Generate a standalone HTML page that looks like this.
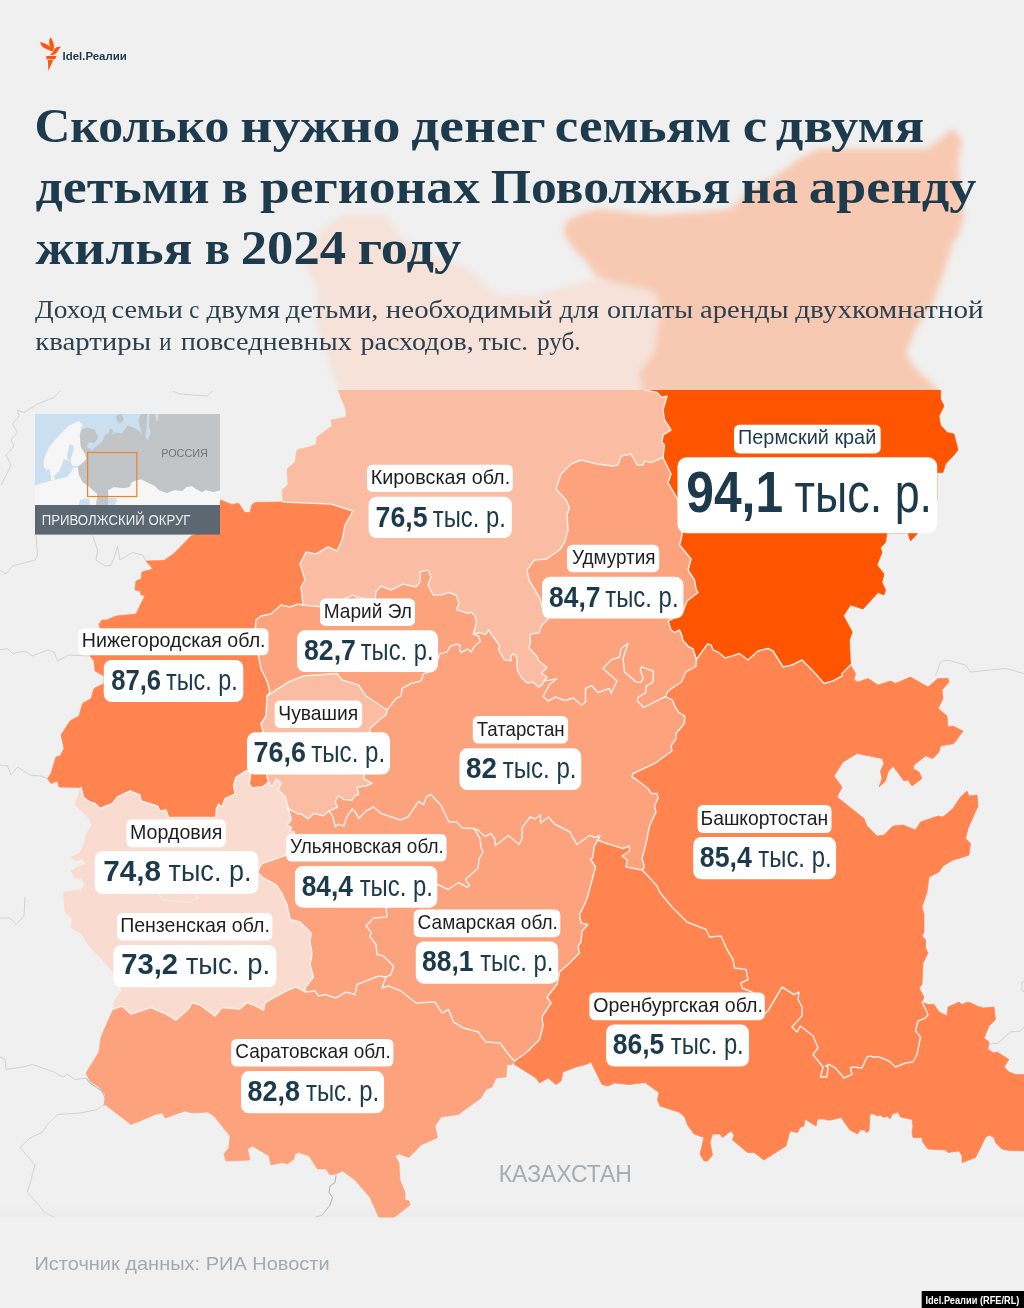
<!DOCTYPE html>
<html lang="ru"><head><meta charset="utf-8"><title>Idel.Реалии — аренда жилья в Поволжье, 2024</title>
<style>
html,body{margin:0;padding:0;background:#f0f0f0}
body{width:1024px;height:1308px;overflow:hidden}
svg{display:block;will-change:transform;transform:translateZ(0)}
.ser{font-family:"Liberation Serif","DejaVu Serif",serif}
.san{font-family:"Liberation Sans","DejaVu Sans",sans-serif}
</style></head><body>
<svg width="1024" height="1308" viewBox="0 0 1024 1308">
<defs>
<filter id="bl" x="-10%" y="-10%" width="120%" height="120%"><feGaussianBlur stdDeviation="3.2"/></filter>
<clipPath id="mapclip"><rect x="0" y="390" width="1024" height="828"/></clipPath>
<clipPath id="insclip"><rect x="35" y="414" width="185" height="91"/></clipPath>
<linearGradient id="botg" x1="0" y1="0" x2="0" y2="1"><stop offset="0" stop-color="#e9e9e9" stop-opacity="0"/><stop offset="1" stop-color="#e6e6e6" stop-opacity=".9"/></linearGradient>
</defs>
<rect width="1024" height="1308" fill="#f0f0f0"/>

<g filter="url(#bl)">
<polygon points="341,394 331,370 321,340 316,315 318.5,290 306,265 316,235 341,215 386,215 398.5,235 421,250 441,260 466,267.5 481,280 496,295 536,296 566,287 590,280 613,282 642.5,288 657,294 660,311.7 657,335 654,352.7 639.6,373 642.5,394" fill="#f6e2d9"/>
<polygon points="642.5,394 639.6,373 654,352.7 657,335 660,311.7 657,294 642.5,288 613,282 595.7,276.5 587,262 572,247 563.4,232.5 566.4,221 578,215 598.6,209 636.7,213.5 657,215 677.7,213.5 704,212 730.4,209 742,197.4 756.8,185.7 774.4,177 795,162 808,154 819,149 927,149 940,139 952,129 962,139 958,164 960,188 964,217 958,237 953,242 945,269 933,302.5 916,328 906,353 914,367 933,384.5 941,394" fill="#f8c9b2"/>
</g>
<g clip-path="url(#mapclip)">
<g fill="none" stroke="#d3d3d3" stroke-width="1" stroke-linejoin="round">
<polyline points="60,391 54,397.5 37.5,404 24,412.5 17.5,410 19,416 12.5,424 17.5,432.5 11,440 14,446 6,455 11,465 7.5,472.5 1,485"/>
<polyline points="172.5,391 180,394 207.5,396 212.5,391"/>
<polyline points="36,535 37.5,555 35,560 12.5,566 6,574 0,570"/>
<polyline points="92.5,535 97.5,550 96,560 105,566 111,565 115,555 117.5,546 120,560 132.5,552.5 142.5,555 146,561"/>
<polyline points="0,650 7.5,648.5 12.5,653.5 25,651 32.5,656 47.5,650 54,652 57.5,661 69,655 90,656"/>
<polyline points="0,765 7.5,766 11,775 17.5,767 30,775 41,776 47.5,778.5"/>
<polyline points="0,1057 5,1059.5 6,1069.5 22.5,1067 32.5,1064.5 54,1072 62.5,1077 67.5,1074.5 75,1079.5 86,1078"/>
<polyline points="104,1104.5 97.5,1109.5 80,1113 57.5,1114.5 47.5,1124.5 42.5,1132 30,1138 20,1147.5 35,1165 27.5,1192.5 45,1212.5 55,1217.5"/>
<polyline points="25,897 24,916 16,924.5 10,918 0,918"/>
<polyline points="935.5,676 940.5,662 947,660 965.5,665 970.5,672 1005.5,668.5 1024,673.5"/>
<polyline points="1024,981 1022,982 1022,991 1024,992"/>
<polyline points="988,1044.5 998,1043 1010.5,1032 1020.5,1031 1024,1027"/>
</g>
<polyline points="336,1175 335,1182.5 330,1186 329,1192.5 332.5,1197.5 330,1205 322.5,1215 315,1217.5" fill="none" stroke="#aab4bc" stroke-width="1"/>
<polyline points="86,1078 90,1083 101.6,1090.8 105.4,1098.4 104,1106" fill="none" stroke="#b9c3cb" stroke-width="1.2"/>
<rect x="0" y="1205" width="1024" height="12.5" fill="url(#botg)" opacity=".55"/>
<polygon points="338,372 338,390 346,410 346,417 331,420 332,426 317,437 316,445 297,450 295,462 287,469 288,485 282,490 283,502 331,504 353,511 345,525 342,540 337,551 328,547 316,554 306,552 300,564 305,580 301,587 303,605 323,607 340,601 353,595 356,597 375,600 376,592 381,586 391,590 403,584 416,587 420,582 420,572 428,570 431,577 428,585 433,595 440,595 449.5,592.5 456.5,595.5 459,603.5 456.5,609.5 468,613.5 471,612 475,616 476.5,621.5 473.5,634 480,632.5 485.5,634.5 488.5,630 499.5,645.5 498.5,649.5 504,659.5 511,661 511,656 513.5,653.5 516.5,656.5 517.5,670.5 521,677 526.5,682.5 530,683 532,681.5 538.5,687 542.5,684.5 544,681 547,677 541.5,673 547,667.5 538.5,660.5 537,656.5 529,648 530.5,641.5 530,637 530.5,634 539,633 541.5,625.5 548,619 542.5,608 539.5,597.5 529,580 527,570 534.5,560 546,559 551,556 559.5,550 564.5,542.5 568,530 567,515 569.5,507.5 566,500 556,489 561,474 571,464 581,460 597,464 613,466 618,465 621,456 631,454 637,465 643,465 644.5,461 651,462.5 663,457.5 664.5,445 662,442.5 663,435 671,430 664.5,420 663,410 667,396 662,397.5 657,392.5 644.5,390 644.5,372" fill="#fabda3" stroke="#fabda3" stroke-width=".7" stroke-linejoin="round"/>
<polygon points="644.5,372 644.5,390 657,392.5 662,397.5 667,396 663,410 664.5,420 671,430 663,435 662,442.5 664.5,445 663,457.5 671,474 668,482.5 678,500 680,517 682,535 679.5,545 691,559 688,570 694.5,580 696,589 698,592.5 687,601 682,614 668,621 671,630 674.5,632.5 679.5,630 682,636 682.7,640 688.6,646.8 693,648.8 696.4,659.5 707.6,643.9 711,644.9 713,649.8 718.9,652.7 725.2,658 730,656.6 739.5,653.5 748,660 758,651 768,648.5 773,651 783,667 792,665 802,660 813,671 824,683.5 833,681 842,676 842,673.5 850.5,665 849.4,640 852.3,632.3 843.5,615.7 850.5,605 863,609 878,592.5 884,595 885.5,590 882,582.5 884,574 877,565 882,552.5 880.5,547.5 885.5,542.5 887,533 908,533 910.5,541 918,533 937,500 937,472.5 943,472.5 945.5,464 954,455 958,450 954,434 947,432.5 940.5,425 939,416 944,406 940.5,399 940.5,372" fill="#ff5500" stroke="#ff5500" stroke-width=".7" stroke-linejoin="round"/>
<polygon points="283,502 256.1,502.3 252,504.4 250,512.6 244.8,512.6 238.7,503.3 231.5,504.4 221.3,500.3 220,500 196,534 190.5,536.5 174,553.6 164,560.5 146,561 153,569 142,572 141,579 136,581 135,590 140,591 141,595 145,595.5 136,614 116,616 107,620 102,620 99,624 100,628 90,656 94,661 95,671 104,676 104,683.5 94,688.5 91,698.5 82.5,703.5 79,716 70,721 61,735 64,748.5 60,756 56,757 51,773.5 47.5,778.5 51,783.5 57.5,781 59,787 81,787.5 83.5,797.5 90,802 95,803.5 100,808.5 112.5,803.5 117.5,797 130,791 140,795 141,801 157.5,806 160,811 166,810 168.5,817.5 216,817.5 216.4,808.75 218.75,804 221.9,807.2 225,798.6 235.2,793.9 233.6,785.3 235.9,777.5 246.9,770.5 250.8,773.6 249.2,783.75 251.6,787.7 262.5,786.9 268.75,782.2 267,777 265,755 263.5,733.5 261,723.5 266,716 267,696 270,692 267,681 261,668.5 258.5,656 255,632 256,620 261,616 271,614 281,605 290,607 298,604 303,605 301,587 305,580 300,564 306,552 316,554 328,547 337,551 342,540 345,525 353,511 331,504 283,502" fill="#ff8450" stroke="#ff8450" stroke-width=".7" stroke-linejoin="round"/>
<polygon points="303,605 298,604 290,607 281,605 271,614 261,616 256,620 255,632 258.5,656 261,668.5 267,681 270,692 267,696 288.5,682 303.5,676 337,673.5 342,680 358.5,685 366,696 387,710 396,698.5 401,696 402,688.5 411,683.5 421,681 423.5,673.5 433.5,671 440,653.5 447,652 450,646.5 456.5,644 460.5,645.5 459.5,649 461,652.5 468,649 471,652 475,645.5 480.5,641.5 478.5,636 473.5,634 476.5,621.5 475,616 471,612 468,613.5 456.5,609.5 459,603.5 456.5,595.5 449.5,592.5 440,595 433,595 428,585 431,577 428,570 420,572 420,582 416,587 403,584 391,590 381,586 376,592 375,600 356,597 353,595 340,601 323,607 303,605" fill="#fca27c" stroke="#fca27c" stroke-width=".7" stroke-linejoin="round"/>
<polygon points="267,696 288.5,682 303.5,676 337,673.5 342,680 358.5,685 366,696 387,710 386,715 381,718.5 370,728.5 370,733.5 368,755 363.5,778.5 372,783.5 366,786 357,787 358.5,795 356.25,794.7 351.6,800.2 343.75,799.4 338.3,795.5 335.2,801.7 337.5,807.2 329,811 323.4,815.8 314,813.4 307.8,818.9 301.6,814.2 296.9,813.4 288.3,808.75 285.2,796.25 278.1,790 281.25,783 276.6,779 271.9,786.9 268.75,782.2 267,777 265,755 263.5,733.5 261,723.5 266,716 267,696" fill="#fabda3" stroke="#fabda3" stroke-width=".7" stroke-linejoin="round"/>
<polygon points="663,457.5 651,462.5 644.5,461 643,465 637,465 631,454 621,456 618,465 613,466 597,464 581,460 571,464 561,474 556,489 566,500 569.5,507.5 567,515 568,530 564.5,542.5 559.5,550 551,556 546,559 534.5,560 527,570 529,580 539.5,597.5 542.5,608 548,619 541.5,625.5 539,633 530.5,634 530,637 530.5,641.5 529,648 537,656.5 538.5,660.5 547,667.5 541.5,673 547,677 544,681 556.5,679 549.5,684.5 543,696.5 548,701 555.5,697 565,700.5 573.5,698 581.5,705 585.5,702 585.5,688.5 591.5,685.5 598,692.5 609.5,688.5 611,693.5 617,681 603,668.5 611,660 619.5,657 621,648.5 628,643.5 623,658.5 624.5,672 630,676.6 635.9,682 640.3,682.5 643.2,679 640.3,669.3 641.7,666.9 653.4,671.25 653,682 646.1,686.4 645.6,692.7 637.8,697.6 637.3,701 643.7,707.4 665.2,696.6 668.1,690.8 681.3,682 686.2,671.7 695.9,666.4 696.4,659.5 693,648.8 688.6,646.8 682.7,640 682,636 679.5,630 674.5,632.5 671,630 668,621 682,614 687,601 698,592.5 696,589 694.5,580 688,570 691,559 679.5,545 682,535 680,517 678,500 668,482.5 671,474 663,457.5" fill="#fca27c" stroke="#fca27c" stroke-width=".7" stroke-linejoin="round"/>
<polygon points="473.5,634 478.5,636 480.5,641.5 475,645.5 471,652 468,649 461,652.5 459.5,649 460.5,645.5 456.5,644 450,646.5 447,652 440,653.5 433.5,671 423.5,673.5 421,681 411,683.5 402,688.5 401,696 396,698.5 387,710 386,715 381,718.5 370,728.5 370,733.5 368,755 363.5,778.5 372,783.5 366,786 357,787 358.5,795 356.25,794.7 351.6,800.2 343.75,799.4 338.3,795.5 335.2,801.7 337.5,807.2 329,811 332.8,816.6 335.2,826.7 338.3,824.4 343.75,826 346.9,816.6 352.3,808.75 356.25,813.4 358.5,818.5 366,811 373.5,807 381,813.5 396,818.5 400,820 408,817 418.5,801.5 423.5,804.5 426.5,796.5 431,794.5 441,805.5 448,820 449,822 456.5,822 462.5,828 474,828.5 478,830 485,836.5 491,833.5 494.5,838.5 495.5,845.5 508.5,835.5 519,844.5 522,838.5 522,828 530,817 535,819 540.5,815 540.5,823 548.5,817 554.5,824 570,832 572,836.5 577,844.5 589.5,835.5 595.5,837.5 600,835.5 598,840 602,842 623,848.5 629.5,846 629.5,851 622,856 627,860 626,867 642,870 644.5,867 642,858.5 646,843.5 649.5,826 656,812 654.5,806 658,798.5 657,793.5 651,793.5 648,788.5 637,780 632,777 633,773.5 654.5,763.5 672,751 671,746 676,738.5 676,733.5 684.5,723.5 684.7,716.2 678.8,712.3 675.9,708.4 672,699.6 665.2,696.6 643.7,707.4 637.3,701 637.8,697.6 645.6,692.7 646.1,686.4 653,682 653.4,671.25 641.7,666.9 640.3,669.3 643.2,679 640.3,682.5 635.9,682 630,676.6 624.5,672 623,658.5 628,643.5 621,648.5 619.5,657 611,660 603,668.5 617,681 611,693.5 609.5,688.5 598,692.5 591.5,685.5 585.5,688.5 585.5,702 581.5,705 573.5,698 565,700.5 555.5,697 548,701 543,696.5 549.5,684.5 556.5,679 544,681 542.5,684.5 538.5,687 532,681.5 530,683 526.5,682.5 521,677 517.5,670.5 516.5,656.5 513.5,653.5 511,656 511,661 504,659.5 498.5,649.5 499.5,645.5 488.5,630 485.5,634.5 480,632.5 473.5,634" fill="#fca27c" stroke="#fca27c" stroke-width=".7" stroke-linejoin="round"/>
<polygon points="696.4,659.5 695.9,666.4 686.2,671.7 681.3,682 668.1,690.8 665.2,696.6 672,699.6 675.9,708.4 678.8,712.3 684.7,716.2 684.5,723.5 676,733.5 676,738.5 671,746 672,751 654.5,763.5 633,773.5 632,777 637,780 648,788.5 651,793.5 657,793.5 658,798.5 654.5,806 656,812 649.5,826 646,843.5 642,858.5 644.5,867 642,870 648,876 657,886 659.5,892 672,907 687,922 706,929.5 709.5,937 721,936 727,949.5 733,959.5 734.5,968 746,969.5 748,979.5 741,983 742,988 752,992 760,1005 764.5,1014 768,1010.75 782,987 794,994.5 799,992 798,999.5 802,1007 802,1016 792,1027 797,1032 800.5,1026 813,1036 818,1048 813,1054.5 823,1067 820.5,1077 827,1077 828,1067 825.5,1066 829,1064.5 835.5,1068 844,1078 852,1074.5 850.5,1068 853,1067 862,1068 867,1057 870.5,1056 873,1057 879,1057 889,1061 895.5,1067 905.5,1063 913,1062 917,1054.5 920.5,1037 915.5,1031 918,1021 925.5,1018 928,1014.5 924,1006 922,1002 924,997 919,988 922,984.5 923,963 928,953 925.5,948 925.5,939.5 922,936 924,932 924,914.5 922,907 927,892 929,877 939,872 943,866 953,860 959,858.5 969,855 970.5,843.5 965.5,838.5 968,828.5 978,806 977,795 969,796 967,791 960.5,797 953,808.5 943,817 938,816 920.5,822 915.5,830 903,825 893,826 884,835 877,836 867,826 864,818.5 837,797 842,787 834,776 843,762 857,753.5 882,758.5 884,763.5 880.5,771 882,778.5 879,787 885.5,781 888,772 893,766 904,781 908,780 912,786 922,778.5 919,772 913,768.5 914,765 925.5,756 933,758.5 939,752 940.5,746 954,743.5 963,731 953,726 948,727 947,716 938,708.5 943,698.5 942,690 949,682 948,678.5 938,678.5 928,687 910.5,677 895.5,683.5 890.5,681 878,685 868,678.5 858,682 854,680 855.5,673.5 850.5,665 842,673.5 842,676 833,681 824,683.5 813,671 802,660 792,665 783,667 773,651 768,648.5 758,651 748,660 739.5,653.5 730,656.6 725.2,658 718.9,652.7 713,649.8 711,644.9 707.6,643.9 696.4,659.5" fill="#ff8450" stroke="#ff8450" stroke-width=".7" stroke-linejoin="round"/>
<polygon points="642,870 626,867 627,860 622,856 629.5,851 629.5,846 623,848.5 602,842 598,840 594.5,845.5 592.5,858 590.5,859 595.5,867 587.5,897 584.5,904.5 579.5,914.5 581,923 588,924.5 582,931 581,942 578,946 579.5,953 568,964.5 559.5,972 557,984.5 547,997 551,1003 542,1017 543,1026 539.5,1039.5 527,1052 514.5,1061 514.5,1064.5 536,1078 539.5,1083 548,1078 556,1084.5 561,1081 563,1072 576,1067 586,1064.5 591,1062 602,1084.5 608,1086 614.5,1083 629.5,1084.5 645,1082.5 659,1092.5 657.5,1100 660,1106 680,1112.5 685,1117.5 687.5,1125 694,1134 704,1137.5 700,1154 704,1161 707.5,1161 712.5,1155 710,1142.5 712.5,1134 720,1134 722.5,1137.5 731,1131 734,1135 732.5,1140 747.5,1152.5 754,1152.5 764,1160 786,1146 790,1131 797.5,1132.5 800,1127.5 804,1126 805,1119 816,1126 817.5,1119 824,1119 827.5,1120 831,1120 841,1117.5 850,1130 857.5,1134 860,1130 865,1130 866,1132.5 869,1131 870,1114 874,1114 877.5,1116 880,1115 884,1117.5 887.5,1116 890,1119 892.5,1114 898,1112 900.5,1117 912,1119.5 913,1126 912,1132 913,1137.5 922,1137.5 923,1142.5 928,1149 945.5,1150 948,1152.5 959,1151 962,1156 962,1162.5 975.5,1157.5 985.5,1137.5 989,1135 994,1137.5 995.5,1142.5 1002,1149 1009,1150.5 1030,1151 1030,1074.5 1015.5,1074.5 1009,1072 1004,1067 1009,1059.5 997,1052 994,1053 988,1049.5 989,1042 984,1038 989,1026 995.5,1019.5 994,1007 983,1008 977,1006 974,1004.5 968,1002 962,1004.5 959,1002 948,1007 947,1016 939,1012 934,1004.5 928,1004.5 922,1002 924,1006 928,1014.5 925.5,1018 918,1021 915.5,1031 920.5,1037 917,1054.5 913,1062 905.5,1063 895.5,1067 889,1061 879,1057 873,1057 870.5,1056 867,1057 862,1068 853,1067 850.5,1068 852,1074.5 844,1078 835.5,1068 829,1064.5 825.5,1066 828,1067 827,1077 820.5,1077 823,1067 813,1054.5 818,1048 813,1036 800.5,1026 797,1032 792,1027 802,1016 802,1007 798,999.5 799,992 794,994.5 782,987 768,1010.75 764.5,1014 760,1005 752,992 742,988 741,983 748,979.5 746,969.5 734.5,968 733,959.5 727,949.5 721,936 709.5,937 706,929.5 687,922 672,907 659.5,892 657,886 648,876 642,870" fill="#ff8450" stroke="#ff8450" stroke-width=".7" stroke-linejoin="round"/>
<polygon points="598,840 600,835.5 595.5,837.5 589.5,835.5 577,844.5 572,836.5 570,832 554.5,824 548.5,817 540.5,823 540.5,815 535,819 530,817 522,828 522,838.5 519,844.5 508.5,835.5 495.5,845.5 494.5,838.5 491,833.5 485,836.5 478,830 474,828.5 480,838.5 481,847.5 483,852 479,859 478,868 465.5,879.5 469.5,885.5 467.5,887.5 458.5,882.5 448,889.5 438,884.5 420,895 400,903 386,908 387,917 373.5,918 366,926 371,932 370,937 376,944.5 377,954.5 383.5,956 393.5,966 391,974.5 386,977 382,988 388.5,986 401,991 416,1003 435,1002 442,1013 448.5,1009.5 453.5,1022 463.5,1028 478.5,1032 481,1036 486,1042 500,1043 508.5,1054.5 514.5,1061 527,1052 539.5,1039.5 543,1026 542,1017 551,1003 547,997 557,984.5 559.5,972 568,964.5 579.5,953 578,946 581,942 582,931 588,924.5 581,923 579.5,914.5 584.5,904.5 587.5,897 595.5,867 590.5,859 592.5,858 594.5,845.5 598,840" fill="#fca27c" stroke="#fca27c" stroke-width=".7" stroke-linejoin="round"/>
<polygon points="329,811 323.4,815.8 314,813.4 307.8,818.9 301.6,814.2 296.9,813.4 288.3,808.75 291.4,819.7 286.7,825.2 291.4,827.5 289.8,830.6 294.5,832.2 291,843.5 287,851 285.2,855.6 271,860.5 262.5,863.4 259,868 257.8,872.8 262.5,877.5 276,885 281,892 287,904.5 290,919.5 300,922 311,933 310,942 312,954.5 310,964.5 313.5,977 305,988 306,992 315,991 318.5,996 325,994.5 336,998 346,992 355,994.5 357,984.5 366,981 378.5,976 386,977 391,974.5 393.5,966 383.5,956 377,954.5 376,944.5 370,937 371,932 366,926 373.5,918 387,917 386,908 400,903 420,895 438,884.5 448,889.5 458.5,882.5 467.5,887.5 469.5,885.5 465.5,879.5 478,868 479,859 483,852 481,847.5 480,838.5 474,828.5 462.5,828 456.5,822 449,822 448,820 441,805.5 431,794.5 426.5,796.5 423.5,804.5 418.5,801.5 408,817 400,820 396,818.5 381,813.5 373.5,807 366,811 358.5,818.5 356.25,813.4 352.3,808.75 346.9,816.6 343.75,826 338.3,824.4 335.2,826.7 332.8,816.6 329,811" fill="#fca27c" stroke="#fca27c" stroke-width=".7" stroke-linejoin="round"/>
<polygon points="113.5,1009 122,1006 131,1014 151,1007.5 166,1014 176,1020 188.5,1009 192,1002.5 200,1005 215,1016 222,1007.5 240,1009 247,1002.5 256,1006 263.5,1010 265,1002.5 286,991 296,987 306,992 315,991 318.5,996 325,994.5 336,998 346,992 355,994.5 357,984.5 366,981 378.5,976 386,977 382,988 388.5,986 401,991 416,1003 435,1002 442,1013 448.5,1009.5 453.5,1022 463.5,1028 478.5,1032 481,1036 486,1042 500,1043 508.5,1054.5 514.5,1061 512,1064.5 507,1064.5 506,1077 496,1078 492,1087 486,1089.5 481,1098 468.5,1107 458.5,1114.5 441,1117 435,1126 437.5,1137.5 430,1141 421,1145 409,1157.5 399,1154 395,1156 399,1162.5 400,1180 405,1192.5 405,1200 409,1201 410,1205 394,1217.5 392,1222 380,1222 379,1217.5 370,1197.5 355,1180 342.5,1171 336,1174 330,1175 326,1169 317.5,1169 309,1156 299,1152.5 295,1154 294,1159 287.5,1164 282.5,1162.5 271,1165 269,1156 252.5,1146 247.5,1149 250,1160 226,1161 224,1154 229,1147.5 230,1136 214,1116 207.5,1112 192.5,1113 185,1111 165,1118 162.5,1113 155,1114.5 140,1121 131,1124.5 105,1104.5 105,1094.5 99,1087 90,1081 86,1073 99,1052 101,1037 107.5,1022 113.5,1009" fill="#fca27c" stroke="#fca27c" stroke-width=".7" stroke-linejoin="round"/>
<polygon points="268.75,782.2 262.5,786.9 251.6,787.7 249.2,783.75 250.8,773.6 246.9,770.5 235.9,777.5 233.6,785.3 235.2,793.9 225,798.6 221.9,807.2 218.75,804 216.4,808.75 216,817.5 168.5,817.5 166,810 160,811 157.5,806 141,801 140,795 130,791 117.5,797 112.5,803.5 100,808.5 95,803.5 90,802 83.5,797.5 81,787.5 75,805 88.5,817.5 92,825 86,834 86,839 80,852.5 71,857.5 76,861 82,859 86,864 76,867.5 71,871 75,877.5 82,879 85,885 81,890 71,891 63.5,892.5 100,893 150,894 158,895 161,899 188,902 198,897 196,893 230,885 259,868 262.5,863.4 271,860.5 285.2,855.6 287,851 291,843.5 294.5,832.2 289.8,830.6 291.4,827.5 286.7,825.2 291.4,819.7 288.3,808.75 285.2,796.25 278.1,790 281.25,783 276.6,779 271.9,786.9 268.75,782.2" fill="#fadbcf" stroke="#fadbcf" stroke-width=".7" stroke-linejoin="round"/>
<polygon points="259,868 230,885 196,893 198,897 188,902 161,899 158,895 150,894 100,893 63.5,892.5 65,912.5 72,919 71,927.5 82,934 88.5,945 106,964 112,971 122,990 115,1000 113.5,1009 122,1006 131,1014 151,1007.5 166,1014 176,1020 188.5,1009 192,1002.5 200,1005 215,1016 222,1007.5 240,1009 247,1002.5 256,1006 263.5,1010 265,1002.5 286,991 296,987 306,992 305,988 313.5,977 310,964.5 312,954.5 310,942 311,933 300,922 290,919.5 287,904.5 281,892 276,885 262.5,877.5 257.8,872.8 259,868" fill="#fadbcf" stroke="#fadbcf" stroke-width=".7" stroke-linejoin="round"/>
<g fill="none" stroke="#f6f1ee" stroke-opacity=".92" stroke-width="1.5" stroke-linejoin="round" stroke-linecap="round">
<polyline points="283,502 331,504 353,511 345,525 342,540 337,551 328,547 316,554 306,552 300,564 305,580 301,587 303,605"/>
<polyline points="303,605 323,607 340,601 353,595 356,597 375,600 376,592 381,586 391,590 403,584 416,587 420,582 420,572 428,570 431,577 428,585 433,595 440,595 449.5,592.5 456.5,595.5 459,603.5 456.5,609.5 468,613.5 471,612 475,616 476.5,621.5 473.5,634"/>
<polyline points="303,605 298,604 290,607 281,605 271,614 261,616 256,620 255,632 258.5,656 261,668.5 267,681 270,692 267,696"/>
<polyline points="267,696 288.5,682 303.5,676 337,673.5 342,680 358.5,685 366,696 387,710"/>
<polyline points="387,710 396,698.5 401,696 402,688.5 411,683.5 421,681 423.5,673.5 433.5,671 440,653.5 447,652 450,646.5 456.5,644 460.5,645.5 459.5,649 461,652.5 468,649 471,652 475,645.5 480.5,641.5 478.5,636 473.5,634"/>
<polyline points="473.5,634 480,632.5 485.5,634.5 488.5,630 499.5,645.5 498.5,649.5 504,659.5 511,661 511,656 513.5,653.5 516.5,656.5 517.5,670.5 521,677 526.5,682.5 530,683 532,681.5 538.5,687 542.5,684.5 544,681"/>
<polyline points="663,457.5 651,462.5 644.5,461 643,465 637,465 631,454 621,456 618,465 613,466 597,464 581,460 571,464 561,474 556,489 566,500 569.5,507.5 567,515 568,530 564.5,542.5 559.5,550 551,556 546,559 534.5,560 527,570 529,580 539.5,597.5 542.5,608 548,619 541.5,625.5 539,633 530.5,634 530,637 530.5,641.5 529,648 537,656.5 538.5,660.5 547,667.5 541.5,673 547,677 544,681"/>
<polyline points="644.5,372 644.5,390 657,392.5 662,397.5 667,396 663,410 664.5,420 671,430 663,435 662,442.5 664.5,445 663,457.5"/>
<polyline points="663,457.5 671,474 668,482.5 678,500 680,517 682,535 679.5,545 691,559 688,570 694.5,580 696,589 698,592.5 687,601 682,614 668,621 671,630 674.5,632.5 679.5,630 682,636 682.7,640 688.6,646.8 693,648.8 696.4,659.5"/>
<polyline points="544,681 556.5,679 549.5,684.5 543,696.5 548,701 555.5,697 565,700.5 573.5,698 581.5,705 585.5,702 585.5,688.5 591.5,685.5 598,692.5 609.5,688.5 611,693.5 617,681 603,668.5 611,660 619.5,657 621,648.5 628,643.5 623,658.5 624.5,672 630,676.6 635.9,682 640.3,682.5 643.2,679 640.3,669.3 641.7,666.9 653.4,671.25 653,682 646.1,686.4 645.6,692.7 637.8,697.6 637.3,701 643.7,707.4 665.2,696.6"/>
<polyline points="665.2,696.6 668.1,690.8 681.3,682 686.2,671.7 695.9,666.4 696.4,659.5"/>
<polyline points="696.4,659.5 707.6,643.9 711,644.9 713,649.8 718.9,652.7 725.2,658 730,656.6 739.5,653.5 748,660 758,651 768,648.5 773,651 783,667 792,665 802,660 813,671 824,683.5 833,681 842,676 842,673.5 850.5,665"/>
<polyline points="665.2,696.6 672,699.6 675.9,708.4 678.8,712.3 684.7,716.2 684.5,723.5 676,733.5 676,738.5 671,746 672,751 654.5,763.5 633,773.5 632,777 637,780 648,788.5 651,793.5 657,793.5 658,798.5 654.5,806 656,812 649.5,826 646,843.5 642,858.5 644.5,867 642,870"/>
<polyline points="642,870 626,867 627,860 622,856 629.5,851 629.5,846 623,848.5 602,842 598,840"/>
<polyline points="598,840 600,835.5 595.5,837.5 589.5,835.5 577,844.5 572,836.5 570,832 554.5,824 548.5,817 540.5,823 540.5,815 535,819 530,817 522,828 522,838.5 519,844.5 508.5,835.5 495.5,845.5 494.5,838.5 491,833.5 485,836.5 478,830 474,828.5"/>
<polyline points="474,828.5 462.5,828 456.5,822 449,822 448,820 441,805.5 431,794.5 426.5,796.5 423.5,804.5 418.5,801.5 408,817 400,820 396,818.5 381,813.5 373.5,807 366,811 358.5,818.5 356.25,813.4 352.3,808.75 346.9,816.6 343.75,826 338.3,824.4 335.2,826.7 332.8,816.6 329,811"/>
<polyline points="387,710 386,715 381,718.5 370,728.5 370,733.5 368,755 363.5,778.5 372,783.5 366,786 357,787 358.5,795 356.25,794.7 351.6,800.2 343.75,799.4 338.3,795.5 335.2,801.7 337.5,807.2 329,811"/>
<polyline points="329,811 323.4,815.8 314,813.4 307.8,818.9 301.6,814.2 296.9,813.4 288.3,808.75"/>
<polyline points="288.3,808.75 285.2,796.25 278.1,790 281.25,783 276.6,779 271.9,786.9 268.75,782.2"/>
<polyline points="267,696 266,716 261,723.5 263.5,733.5 265,755 267,777 268.75,782.2"/>
<polyline points="268.75,782.2 262.5,786.9 251.6,787.7 249.2,783.75 250.8,773.6 246.9,770.5 235.9,777.5 233.6,785.3 235.2,793.9 225,798.6 221.9,807.2 218.75,804 216.4,808.75 216,817.5 168.5,817.5 166,810 160,811 157.5,806 141,801 140,795 130,791 117.5,797 112.5,803.5 100,808.5 95,803.5 90,802 83.5,797.5 81,787.5"/>
<polyline points="288.3,808.75 291.4,819.7 286.7,825.2 291.4,827.5 289.8,830.6 294.5,832.2 291,843.5 287,851 285.2,855.6 271,860.5 262.5,863.4 259,868"/>
<polyline points="259,868 257.8,872.8 262.5,877.5 276,885 281,892 287,904.5 290,919.5 300,922 311,933 310,942 312,954.5 310,964.5 313.5,977 305,988 306,992"/>
<polyline points="113.5,1009 122,1006 131,1014 151,1007.5 166,1014 176,1020 188.5,1009 192,1002.5 200,1005 215,1016 222,1007.5 240,1009 247,1002.5 256,1006 263.5,1010 265,1002.5 286,991 296,987 306,992"/>
<polyline points="306,992 315,991 318.5,996 325,994.5 336,998 346,992 355,994.5 357,984.5 366,981 378.5,976 386,977"/>
<polyline points="474,828.5 480,838.5 481,847.5 483,852 479,859 478,868 465.5,879.5 469.5,885.5 467.5,887.5 458.5,882.5 448,889.5 438,884.5 420,895 400,903 386,908 387,917 373.5,918 366,926 371,932 370,937 376,944.5 377,954.5 383.5,956 393.5,966 391,974.5 386,977"/>
<polyline points="386,977 382,988 388.5,986 401,991 416,1003 435,1002 442,1013 448.5,1009.5 453.5,1022 463.5,1028 478.5,1032 481,1036 486,1042 500,1043 508.5,1054.5 514.5,1061"/>
<polyline points="598,840 594.5,845.5 592.5,858 590.5,859 595.5,867 587.5,897 584.5,904.5 579.5,914.5 581,923 588,924.5 582,931 581,942 578,946 579.5,953 568,964.5 559.5,972 557,984.5 547,997 551,1003 542,1017 543,1026 539.5,1039.5 527,1052 514.5,1061"/>
<polyline points="642,870 648,876 657,886 659.5,892 672,907 687,922 706,929.5 709.5,937 721,936 727,949.5 733,959.5 734.5,968 746,969.5 748,979.5 741,983 742,988 752,992 760,1005 764.5,1014 768,1010.75 782,987 794,994.5 799,992 798,999.5 802,1007 802,1016 792,1027 797,1032 800.5,1026 813,1036 818,1048 813,1054.5 823,1067 820.5,1077 827,1077 828,1067 825.5,1066 829,1064.5 835.5,1068 844,1078 852,1074.5 850.5,1068 853,1067 862,1068 867,1057 870.5,1056 873,1057 879,1057 889,1061 895.5,1067 905.5,1063 913,1062 917,1054.5 920.5,1037 915.5,1031 918,1021 925.5,1018 928,1014.5 924,1006 922,1002"/>
<polyline points="158.5,895 163.5,900 188.5,902.5 198.5,897.5 196,893.75" stroke-opacity=".55"/>
</g>
</g>
<rect x="0" y="1217.5" width="1024" height="91" fill="#f0f0f0"/>
<g>
<rect x="35" y="414" width="185" height="120.6" fill="#5b6771"/>
<g clip-path="url(#insclip)">
<rect x="35" y="414" width="185" height="91" fill="#cadff0"/>
<polygon points="43.7,459.8 48.6,448 57.3,437.3 69.1,425.6 78.8,421.3 82.7,424.6 81.2,427.5 79.8,434.4 80.8,447.1 84.7,452.9 86.6,458.8 81.8,463.7 78.4,466.2 72.6,466.2 70.2,461.1 63.6,459.2 62.2,464.2 59.3,470.9 55.8,474.8 50.5,475.4 49.5,468.5 46.6,470.5 43.7,466.6" fill="#f6f6f6"/>
<polygon points="33.9,486.1 41.7,483.2 50.5,480.7 59.3,478.7 67.5,476.8 71.6,471.3 73,467.8 77.9,467.4 78.8,474.4 82.7,482.2 88.6,486.1 92.5,490 97.4,493.9 96.4,505.7 33.9,505.7" fill="#f6f6f6"/>
<polygon points="51.1,472.5 54.2,473.4 54.6,479.9 51.1,479.9" fill="#f6f6f6"/>
<polygon points="108.1,505.7 108.1,490 114,487.1 123.8,488.1 129.6,487.1 131.6,482.2 136.4,480.3 141.3,479.3 147.2,482.2 155,486.1 158.9,490 166.7,493 174.5,490 182.3,491 186.2,487.1 192.1,486.1 196,489.1 201.9,492 205.8,490 213.6,492 221.4,490 221.4,505.7" fill="#f6f6f6"/>
<polygon points="69.6,444.3 73,444.9 73.6,450 71.6,456.8 70.2,461.1 67.7,459.2 67.1,454.9 68.3,449" fill="#cadff0"/>
<polygon points="79.8,434.4 81.8,429.5 86.6,427.5 94.5,429.5 98.4,437.3 94.5,443.2 88.6,442.2 86.6,447.1 92.5,450 97.4,445.1 102.3,441.2 105.2,435.3 108.1,433.4 110.1,428.5 113,429.5 112,434.4 115.9,432.4 121.8,433.4 127.7,425.6 133.5,427.5 138.4,430.5 142.3,433.4 139.4,425.6 138.4,419.7 141.3,412.9 221.4,412.9 221.4,490 213.6,492 205.8,490 201.9,492 196,489.1 192.1,486.1 186.2,487.1 182.3,491 174.5,490 166.7,493 158.9,490 155,486.1 147.2,482.2 141.3,479.3 136.4,480.3 131.6,482.2 129.6,487.1 123.8,488.1 114,487.1 108.1,490 108.5,505.7 96,505.7 97.4,493.9 92.5,490 88.6,486.1 82.7,482.2 78.8,474.4 77.9,466.6 81.8,463.7 86.6,458.8 84.7,452.9 80.8,447.1" fill="#c1c5c8"/>
<polygon points="115.9,415.8 121.8,413.9 123.8,419.7 119.8,423.6 116.9,420.7" fill="#c1c5c8"/>
<polygon points="79.8,499.8 88.6,498.2 90.5,505.7 78.8,505.7" fill="#cadff0"/>
<polygon points="108.5,498.2 115.9,497.5 116.9,501.8 114,505.7 108.5,505.7" fill="#cadff0"/>
<polygon points="147.2,413.9 149.5,413.9 148.8,425.6 150.7,433.4 147.2,440.2 145.2,435.3 146.8,427.5" fill="#cadff0"/>
<polygon points="155,413.9 158.9,413.9 157.9,421.7 156,419.7" fill="#cadff0"/>
</g>
<rect x="87.6" y="452.5" width="49.2" height="44.0" fill="none" stroke="#e8832e" stroke-width="1.2"/>
<text class="san" x="161.15" y="457.3" font-size="11.2" fill="#6f757a" textLength="46.72" lengthAdjust="spacingAndGlyphs">РОССИЯ</text>
<text class="san" x="41.66" y="525.4" font-size="14.3" fill="#eceeef" textLength="148.76" lengthAdjust="spacingAndGlyphs">ПРИВОЛЖСКИЙ ОКРУГ</text>
</g>
<rect x="367" y="464.7" width="145.8" height="27.3" rx="5.5" fill="#fff"/>
<text class="san" x="370.65" y="484.2" font-size="20.2" fill="#1f1f1f" textLength="139.53" lengthAdjust="spacingAndGlyphs">Кировская обл.</text>
<rect x="320" y="598.6" width="95" height="27.3" rx="5.5" fill="#fff"/>
<text class="san" x="323.71" y="618.1" font-size="20.2" fill="#1f1f1f" textLength="88.19" lengthAdjust="spacingAndGlyphs">Марий Эл</text>
<rect x="78.6" y="628.2" width="189.9" height="27.1" rx="5.5" fill="#fff"/>
<text class="san" x="81.77" y="646.9" font-size="20.2" fill="#1f1f1f" textLength="183.81" lengthAdjust="spacingAndGlyphs">Нижегородская обл.</text>
<rect x="274.7" y="700.6" width="87.5" height="27.3" rx="5.5" fill="#fff"/>
<text class="san" x="278.29" y="720.1" font-size="20.2" fill="#1f1f1f" textLength="80.01" lengthAdjust="spacingAndGlyphs">Чувашия</text>
<rect x="567" y="544.8" width="92.2" height="27.4" rx="5.5" fill="#fff"/>
<text class="san" x="571.90" y="564" font-size="20.2" fill="#1f1f1f" textLength="83.68" lengthAdjust="spacingAndGlyphs">Удмуртия</text>
<rect x="472.8" y="716.1" width="95.3" height="27.5" rx="5.5" fill="#fff"/>
<text class="san" x="476.71" y="735.7" font-size="20.2" fill="#1f1f1f" textLength="87.96" lengthAdjust="spacingAndGlyphs">Татарстан</text>
<rect x="126.4" y="819.4" width="99.6" height="27.8" rx="5.5" fill="#fff"/>
<text class="san" x="129.96" y="838.6" font-size="20.2" fill="#1f1f1f" textLength="92.46" lengthAdjust="spacingAndGlyphs">Мордовия</text>
<rect x="286.2" y="833.9" width="160.4" height="27.6" rx="5.5" fill="#fff"/>
<text class="san" x="289.90" y="853.2" font-size="20.2" fill="#1f1f1f" textLength="153.81" lengthAdjust="spacingAndGlyphs">Ульяновская обл.</text>
<rect x="117" y="912.9" width="155.3" height="27.6" rx="5.5" fill="#fff"/>
<text class="san" x="120.17" y="932.2" font-size="20.2" fill="#1f1f1f" textLength="149.69" lengthAdjust="spacingAndGlyphs">Пензенская обл.</text>
<rect x="413.7" y="909.4" width="146.6" height="27.8" rx="5.5" fill="#fff"/>
<text class="san" x="417.61" y="928.8" font-size="20.2" fill="#1f1f1f" textLength="140.21" lengthAdjust="spacingAndGlyphs">Самарская обл.</text>
<rect x="231.1" y="1038.9" width="162.3" height="27.6" rx="5.5" fill="#fff"/>
<text class="san" x="235.21" y="1058.2" font-size="20.2" fill="#1f1f1f" textLength="155.51" lengthAdjust="spacingAndGlyphs">Саратовская обл.</text>
<rect x="697.6" y="804.9" width="133.9" height="28.1" rx="5.5" fill="#fff"/>
<text class="san" x="700.49" y="824.5" font-size="20.2" fill="#1f1f1f" textLength="127.62" lengthAdjust="spacingAndGlyphs">Башкортостан</text>
<rect x="589.4" y="992.4" width="175.4" height="27.8" rx="5.5" fill="#fff"/>
<text class="san" x="593.18" y="1011.7" font-size="20.2" fill="#1f1f1f" textLength="169.69" lengthAdjust="spacingAndGlyphs">Оренбургская обл.</text>
<rect x="368.6" y="496.7" width="143.3" height="41.4" rx="8" fill="#fff"/>
<text class="san" x="375.57" y="526.9" font-size="30.2" font-weight="700" fill="#1c3a4c" textLength="52.00" lengthAdjust="spacingAndGlyphs">76,5</text>
<text class="san" x="432.73" y="526.9" font-size="29.5" fill="#1c3a4c" textLength="73.18" lengthAdjust="spacingAndGlyphs">тыс. р.</text>
<rect x="297" y="630.3" width="141.1" height="41.7" rx="8" fill="#fff"/>
<text class="san" x="303.97" y="660.4" font-size="30.2" font-weight="700" fill="#1c3a4c" textLength="51.91" lengthAdjust="spacingAndGlyphs">82,7</text>
<text class="san" x="360.73" y="660.4" font-size="29.5" fill="#1c3a4c" textLength="72.82" lengthAdjust="spacingAndGlyphs">тыс. р.</text>
<rect x="103.8" y="660" width="139.5" height="42" rx="8" fill="#fff"/>
<text class="san" x="111.20" y="689.5" font-size="30.2" font-weight="700" fill="#1c3a4c" textLength="49.94" lengthAdjust="spacingAndGlyphs">87,6</text>
<text class="san" x="166.03" y="689.5" font-size="29.5" fill="#1c3a4c" textLength="71.78" lengthAdjust="spacingAndGlyphs">тыс. р.</text>
<rect x="247" y="732.3" width="143" height="42.2" rx="8" fill="#fff"/>
<text class="san" x="253.56" y="762.4" font-size="30.2" font-weight="700" fill="#1c3a4c" textLength="52.41" lengthAdjust="spacingAndGlyphs">76,6</text>
<text class="san" x="311.22" y="762.4" font-size="29.5" fill="#1c3a4c" textLength="73.96" lengthAdjust="spacingAndGlyphs">тыс. р.</text>
<rect x="542" y="576.8" width="141.4" height="41.8" rx="8" fill="#fff"/>
<text class="san" x="548.97" y="606.7" font-size="30.2" font-weight="700" fill="#1c3a4c" textLength="51.50" lengthAdjust="spacingAndGlyphs">84,7</text>
<text class="san" x="605.23" y="606.7" font-size="29.5" fill="#1c3a4c" textLength="73.33" lengthAdjust="spacingAndGlyphs">тыс. р.</text>
<rect x="459.4" y="748.3" width="121.85" height="41.7" rx="8" fill="#fff"/>
<text class="san" x="466.03" y="778" font-size="30.2" font-weight="700" fill="#1c3a4c" textLength="30.91" lengthAdjust="spacingAndGlyphs">82</text>
<text class="san" x="502.72" y="778" font-size="29.5" fill="#1c3a4c" textLength="73.85" lengthAdjust="spacingAndGlyphs">тыс. р.</text>
<rect x="94.8" y="851" width="163.6" height="43" rx="8" fill="#fff"/>
<text class="san" x="103.17" y="880.6" font-size="30.2" font-weight="700" fill="#1c3a4c" textLength="57.77" lengthAdjust="spacingAndGlyphs">74,8</text>
<text class="san" x="168.58" y="880.6" font-size="29.5" fill="#1c3a4c" textLength="82.86" lengthAdjust="spacingAndGlyphs">тыс. р.</text>
<rect x="294.9" y="866" width="142.4" height="41.7" rx="8" fill="#fff"/>
<text class="san" x="301.68" y="895.6" font-size="30.2" font-weight="700" fill="#1c3a4c" textLength="51.15" lengthAdjust="spacingAndGlyphs">84,4</text>
<text class="san" x="359.63" y="895.6" font-size="29.5" fill="#1c3a4c" textLength="73.33" lengthAdjust="spacingAndGlyphs">тыс. р.</text>
<rect x="113.4" y="945.1" width="163" height="42.2" rx="8" fill="#fff"/>
<text class="san" x="121.29" y="974" font-size="30.2" font-weight="700" fill="#1c3a4c" textLength="56.84" lengthAdjust="spacingAndGlyphs">73,2</text>
<text class="san" x="185.77" y="974" font-size="29.5" fill="#1c3a4c" textLength="84.31" lengthAdjust="spacingAndGlyphs">тыс. р.</text>
<rect x="415.8" y="941.5" width="142.4" height="42.2" rx="8" fill="#fff"/>
<text class="san" x="422.07" y="971.2" font-size="30.2" font-weight="700" fill="#1c3a4c" textLength="51.49" lengthAdjust="spacingAndGlyphs">88,1</text>
<text class="san" x="480.13" y="971.2" font-size="29.5" fill="#1c3a4c" textLength="73.23" lengthAdjust="spacingAndGlyphs">тыс. р.</text>
<rect x="241" y="1071.1" width="143.1" height="42.2" rx="8" fill="#fff"/>
<text class="san" x="247.56" y="1100.6" font-size="30.2" font-weight="700" fill="#1c3a4c" textLength="52.41" lengthAdjust="spacingAndGlyphs">82,8</text>
<text class="san" x="306.03" y="1100.6" font-size="29.5" fill="#1c3a4c" textLength="73.13" lengthAdjust="spacingAndGlyphs">тыс. р.</text>
<rect x="693.2" y="837.1" width="142.9" height="42.2" rx="8" fill="#fff"/>
<text class="san" x="699.86" y="866.7" font-size="30.2" font-weight="700" fill="#1c3a4c" textLength="52.07" lengthAdjust="spacingAndGlyphs">85,4</text>
<text class="san" x="758.33" y="866.7" font-size="29.5" fill="#1c3a4c" textLength="73.23" lengthAdjust="spacingAndGlyphs">тыс. р.</text>
<rect x="606.1" y="1024.5" width="142.9" height="42.1" rx="8" fill="#fff"/>
<text class="san" x="612.67" y="1054" font-size="30.2" font-weight="700" fill="#1c3a4c" textLength="51.59" lengthAdjust="spacingAndGlyphs">86,5</text>
<text class="san" x="670.73" y="1054" font-size="29.5" fill="#1c3a4c" textLength="73.02" lengthAdjust="spacingAndGlyphs">тыс. р.</text>
<rect x="734" y="424.7" width="146.7" height="28.7" rx="5.5" fill="#fff"/>
<text class="san" x="738.05" y="444.2" font-size="20.2" fill="#1c3a4c" textLength="138.22" lengthAdjust="spacingAndGlyphs">Пермский край</text>
<rect x="677.5" y="457.3" width="259.7" height="76" rx="9" fill="#fff"/>
<text class="san" x="686.24" y="512.4" font-size="56.5" font-weight="700" fill="#1c3a4c" textLength="96.90" lengthAdjust="spacingAndGlyphs">94,1</text>
<text class="san" x="794.50" y="512.4" font-size="55" fill="#1c3a4c" textLength="137.55" lengthAdjust="spacingAndGlyphs">тыс. р.</text>
<g fill="#fb570c">
<path d="M40.15,41.67 C43,43.1 47.4,43.6 50.2,46.8 C51.6,48.4 52.3,49.6 52.7,50.9 L50.9,51.3 C49.6,49.7 47.5,49.3 45,48.4 C42.5,47.4 40.6,45 40.15,41.67 Z"/>
<path d="M50.5,37.3 C52.6,40.4 54.3,43.6 53.95,47.5 C53.8,49 53.4,50 53,51 L52.3,50.7 C51.6,48.8 49.9,46.6 49.3,44 C48.8,41.6 49.4,39.4 50.5,37.3 Z"/>
<path d="M61.4,47.1 C59.6,47.3 59.2,49 57.2,52 C55.8,54 54.2,54.9 52.3,54.9 L49.6,54.8 C51.6,53.8 52.6,52.4 53.6,50.4 C54.8,48 57.6,46 61.4,47.1 Z"/>
<path d="M46.3,56.1 H56.5 L55.1,59.25 H46.3 Z"/>
<path d="M47.9,60.1 H53.2 L48.4,71 Z"/>
</g>
<text class="san" x="62.55" y="60.2" font-size="11.4" font-weight="700" fill="#1f3a4a" textLength="64.21" lengthAdjust="spacingAndGlyphs">Idel.Реалии</text>
<text class="ser" y="142" font-size="48" font-weight="700" fill="#1d3b4d"><tspan x="34.47" textLength="194.88" lengthAdjust="spacingAndGlyphs">Сколько</tspan> <tspan x="240.23" textLength="160.22" lengthAdjust="spacingAndGlyphs">нужно</tspan> <tspan x="411.20" textLength="134.52" lengthAdjust="spacingAndGlyphs">денег</tspan> <tspan x="554.85" textLength="176.37" lengthAdjust="spacingAndGlyphs">семьям</tspan> <tspan x="742.78" textLength="24.43" lengthAdjust="spacingAndGlyphs">с</tspan> <tspan x="775.80" textLength="148.38" lengthAdjust="spacingAndGlyphs">двумя</tspan></text>
<text class="ser" y="202.6" font-size="48" font-weight="700" fill="#1d3b4d"><tspan x="35.50" textLength="173.94" lengthAdjust="spacingAndGlyphs">детьми</tspan> <tspan x="221.74" textLength="26.14" lengthAdjust="spacingAndGlyphs">в</tspan> <tspan x="260.00" textLength="219.90" lengthAdjust="spacingAndGlyphs">регионах</tspan> <tspan x="490.79" textLength="239.42" lengthAdjust="spacingAndGlyphs">Поволжья</tspan> <tspan x="740.77" textLength="57.43" lengthAdjust="spacingAndGlyphs">на</tspan> <tspan x="808.80" textLength="167.70" lengthAdjust="spacingAndGlyphs">аренду</tspan></text>
<text class="ser" y="263.7" font-size="48" font-weight="700" fill="#1d3b4d"><tspan x="35.50" textLength="156.96" lengthAdjust="spacingAndGlyphs">жилья</tspan> <tspan x="204.77" textLength="25.38" lengthAdjust="spacingAndGlyphs">в</tspan> <tspan x="240.76" textLength="105.27" lengthAdjust="spacingAndGlyphs">2024</tspan> <tspan x="357.45" textLength="103.75" lengthAdjust="spacingAndGlyphs">году</tspan></text>
<text class="ser" y="318" font-size="24.5" fill="#2b4150"><tspan x="35.10" textLength="71.34" lengthAdjust="spacingAndGlyphs">Доход</tspan> <tspan x="111.62" textLength="71.34" lengthAdjust="spacingAndGlyphs">семьи</tspan> <tspan x="189.29" textLength="10.11" lengthAdjust="spacingAndGlyphs">с</tspan> <tspan x="206.50" textLength="73.60" lengthAdjust="spacingAndGlyphs">двумя</tspan> <tspan x="285.70" textLength="92.78" lengthAdjust="spacingAndGlyphs">детьми,</tspan> <tspan x="385.85" textLength="166.62" lengthAdjust="spacingAndGlyphs">необходимый</tspan> <tspan x="559.50" textLength="39.58" lengthAdjust="spacingAndGlyphs">для</tspan> <tspan x="606.92" textLength="86.32" lengthAdjust="spacingAndGlyphs">оплаты</tspan> <tspan x="700.11" textLength="88.44" lengthAdjust="spacingAndGlyphs">аренды</tspan> <tspan x="795.20" textLength="188.47" lengthAdjust="spacingAndGlyphs">двухкомнатной</tspan></text>
<text class="ser" y="350" font-size="24.5" fill="#2b4150"><tspan x="35.15" textLength="115.90" lengthAdjust="spacingAndGlyphs">квартиры</tspan> <tspan x="159.14" textLength="12.20" lengthAdjust="spacingAndGlyphs">и</tspan> <tspan x="180.66" textLength="171.14" lengthAdjust="spacingAndGlyphs">повседневных</tspan> <tspan x="360.46" textLength="113.19" lengthAdjust="spacingAndGlyphs">расходов,</tspan> <tspan x="478.70" textLength="49.52" lengthAdjust="spacingAndGlyphs">тыс.</tspan> <tspan x="537.01" textLength="43.67" lengthAdjust="spacingAndGlyphs">руб.</tspan></text>
<text class="san" x="498.71" y="1182" font-size="24.5" fill="#a6acb0" textLength="133.17" lengthAdjust="spacingAndGlyphs">КАЗАХСТАН</text>
<text class="san" x="34.44" y="1270" font-size="19" fill="#a3abb0" textLength="295.23" lengthAdjust="spacingAndGlyphs">Источник данных: РИА Новости</text>
<rect x="921.7" y="1291" width="102.3" height="17" fill="#000"/>
<text class="san" x="925.42" y="1303.6" font-size="11" font-weight="700" fill="#fff" textLength="94.03" lengthAdjust="spacingAndGlyphs">Idel.Реалии (RFE/RL)</text>
</svg>
</body></html>
